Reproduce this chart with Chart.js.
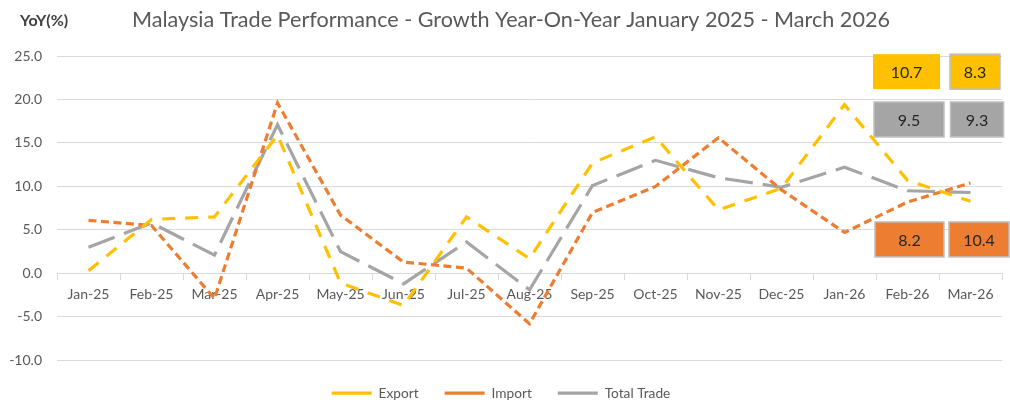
<!DOCTYPE html>
<html>
<head>
<meta charset="utf-8">
<script src="https://cdn.jsdelivr.net/npm/chart.js@4"></script>
<style>
  html, body { margin: 0; padding: 0; background: #ffffff; }
  #wrap { width: 1010px; height: 417px; position: relative; }
</style>
</head>
<body>
<div id="wrap"><canvas id="c" width="1010" height="417"></canvas></div>
<script>
const categories = ['Jan-25','Feb-25','Mar-25','Apr-25','May-25','Jun-25','Jul-25','Aug-25','Sep-25','Oct-25','Nov-25','Dec-25','Jan-26','Feb-26','Mar-26'];
const exportYoY = [0.3, 6.2, 6.5, 15.9, -1.1, -3.7, 6.5, 1.7, 12.7, 15.7, 7.3, 9.8, 19.4, 10.7, 8.3];
const importYoY = [6.1, 5.5, -2.9, 19.6, 6.7, 1.3, 0.6, -5.8, 7.0, 10.0, 15.6, 9.6, 4.7, 8.2, 10.4];
const totalTradeYoY = [3.0, 5.8, 2.1, 17.1, 2.5, -1.2, 3.6, -1.9, 10.1, 13.0, 11.0, 9.9, 12.2, 9.5, 9.3];
const yTicks = [-10, -5, 0, 5, 10, 15, 20, 25];
const titleText = 'Malaysia Trade Performance - Growth Year-On-Year January 2025 - March 2026';
const yAxisLabel = 'YoY(%)';
const labelledPoints = ['Feb-26', 'Mar-26'];

const FONT = 'Lato, "Open Sans", sans-serif';
const TXT = '#595959';
const GRID = '#D9D9D9';

// Draws boxed data labels for the last points, anchored to category positions from the x scale
const boxLabels = {
  id: 'boxLabels',
  afterDatasetsDraw(chart, args, opts) {
    const {ctx, scales: {x, y}} = chart;
    ctx.save();
    opts.series.forEach(s => {
      const ds = chart.data.datasets[s.dataset];
      labelledPoints.forEach((cat, k) => {
        const idx = categories.indexOf(cat);
        const val = ds.data[idx];
        const cx = x.getPixelForValue(idx) + s.dx[k];
        const cy = y.getPixelForValue(s.anchor);
        const w = s.w[k], h = 35;
        ctx.fillStyle = s.fill;
        ctx.fillRect(cx - w / 2, cy - h / 2, w, h);
        if (s.stroke[k]) {
          ctx.strokeStyle = s.stroke[k];
          ctx.lineWidth = 1.5;
          ctx.strokeRect(cx - w / 2, cy - h / 2, w, h);
        }
        ctx.fillStyle = '#262626';
        ctx.font = '16px ' + FONT;
        ctx.textAlign = 'center';
        ctx.textBaseline = 'middle';
        ctx.fillText(val.toFixed(1), cx, cy + 1);
      });
    });
    ctx.restore();
  }
};

// Chart title and the y-axis caption
const headings = {
  id: 'headings',
  afterDraw(chart) {
    const {ctx} = chart;
    ctx.save();
    ctx.textBaseline = 'middle';
    ctx.fillStyle = '#404040';
    ctx.font = 'bold 16px ' + FONT;
    ctx.textAlign = 'left';
    ctx.fillText(yAxisLabel, 20, 21);
    ctx.fillStyle = TXT;
    ctx.font = '21.6px ' + FONT;
    ctx.textAlign = 'center';
    ctx.fillText(titleText, 511, 20);
    ctx.restore();
  }
};

new Chart(document.getElementById('c'), {
  type: 'line',
  data: {
    labels: categories,
    datasets: [
      { label: 'Export', data: exportYoY, borderColor: '#FFC000', backgroundColor: '#FFC000',
        borderWidth: 3.2, borderDash: [13, 10], borderCapStyle: 'butt', pointRadius: 0, tension: 0, fill: false },
      { label: 'Import', data: importYoY, borderColor: '#ED7D31', backgroundColor: '#ED7D31',
        borderWidth: 3.2, borderDash: [8, 4.5], borderCapStyle: 'butt', pointRadius: 0, tension: 0, fill: false },
      { label: 'Total Trade', data: totalTradeYoY, borderColor: '#A5A5A5', backgroundColor: '#A5A5A5',
        borderWidth: 3.2, borderDash: [28, 10], borderCapStyle: 'butt', pointRadius: 0, tension: 0, fill: false }
    ]
  },
  options: {
    responsive: false,
    animation: false,
    devicePixelRatio: 1,
    layout: { padding: { left: 0, right: 8, top: 56, bottom: 7 } },
    scales: {
      x: {
        type: 'category',
        position: { y: 0 },
        offset: true,
        grid: { display: true, offset: true, drawOnChartArea: false, drawTicks: true, tickLength: 6, color: GRID, lineWidth: 1 },
        border: { display: true, color: GRID, width: 1 },
        ticks: { color: TXT, font: { family: FONT, size: 14 }, padding: 7, maxRotation: 0, autoSkip: false }
      },
      y: {
        min: -10, max: 25,
        afterBuildTicks(scale) { scale.ticks = yTicks.map(v => ({ value: v })); },
        afterFit(scale) { scale.width = 57; },
        grid: { color: GRID, lineWidth: 1, drawTicks: false },
        border: { display: false },
        ticks: { color: TXT, font: { family: FONT, size: 14 }, padding: 15, callback: v => Number(v).toFixed(1) }
      }
    },
    plugins: {
      title: { display: false },
      legend: {
        display: true, position: 'bottom',
        labels: {
          color: TXT, font: { family: FONT, size: 13.7 },
          usePointStyle: true, pointStyle: 'line', pointStyleWidth: 40, padding: 26
        }
      },
      tooltip: { enabled: false },
      boxLabels: {
        series: [
          { dataset: 0, anchor: 23.2, dx: [-1, 4.5], w: [67, 50], fill: '#FFC000', stroke: [null, '#BFBFBF'] },
          { dataset: 2, anchor: 17.7, dx: [1.5, 6.5], w: [70, 53], fill: '#A5A5A5', stroke: ['#BFBFBF', '#BFBFBF'] },
          { dataset: 1, anchor: 3.9, dx: [2, 8.5], w: [69, 60], fill: '#ED7D31', stroke: ['#BFBFBF', '#BFBFBF'] }
        ]
      }
    }
  },
  plugins: [boxLabels, headings]
});
</script>
</body>
</html>
